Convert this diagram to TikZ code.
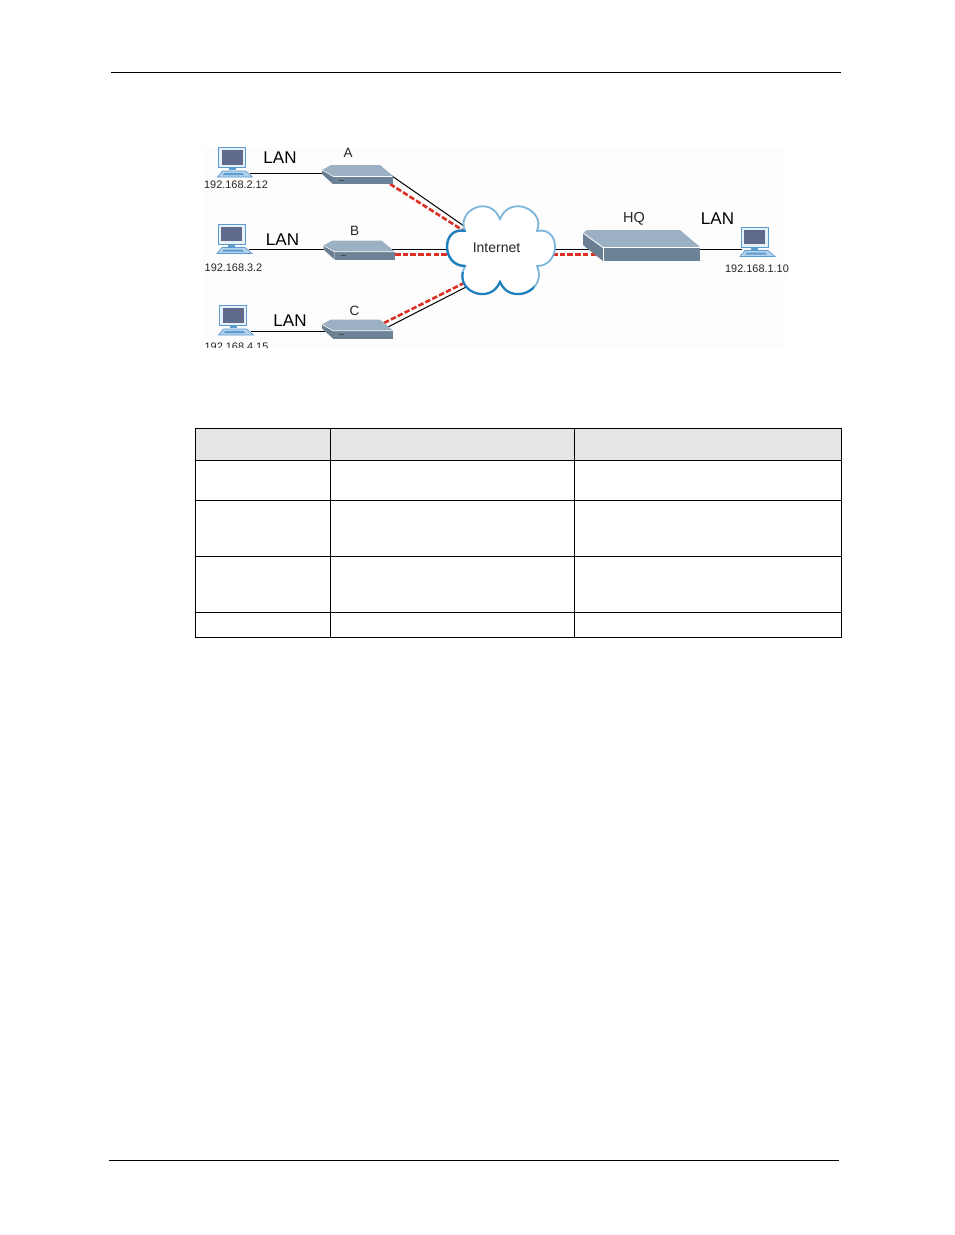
\documentclass[tikz,border=0pt]{standalone}
\usepackage{fontspec}
\setmainfont{Liberation Sans}
\definecolor{topface}{HTML}{9BB0C2}
\definecolor{frontface}{HTML}{6C8296}
\definecolor{sideface}{HTML}{6A7F92}
\definecolor{screenc}{HTML}{5F6A8C}
\definecolor{pcedge}{HTML}{5C9BD0}
\definecolor{pcbody}{HTML}{E6F1FA}
\definecolor{kbfill}{HTML}{B5D3EC}
\definecolor{cloudlight}{HTML}{7DB6DC}
\definecolor{clouddark}{HTML}{1F7FBE}
\definecolor{vpnred}{HTML}{DC3024}
\definecolor{headfill}{HTML}{E6E6E6}
\definecolor{labelc}{HTML}{262626}
\tikzset{
  x=1pt,y=-1pt,
  rule/.style={draw=black,line width=0.9pt},
  tbl/.style={draw=black,line width=1pt},
  wire/.style={draw=black,line width=1pt},
  vpn/.style={draw=vpnred,line width=2.6pt,dash pattern=on 5.5pt off 2.2pt},
  ip/.style={font=\fontsize{10.9}{13}\selectfont,text=labelc,inner sep=0pt},
  lan/.style={font=\fontsize{17}{19}\selectfont,text=black,inner sep=0pt},
  dev/.style={font=\fontsize{13.5}{15}\selectfont,text=labelc,inner sep=0pt},
  compu/.pic={
    \fill[pcbody,draw=pcedge,line width=0.8pt] (0,0) rectangle (27,20);
    \fill[screenc] (3,2.5) rectangle (24,17);
    \fill[pcedge] (10,20) rectangle (17,22.5);
    \fill[kbfill,draw=pcedge,line width=0.7pt] (4,23.5) -- (27,23.5) -- (34,29.5) -- (-1,29.5) -- cycle;
    \fill[pcedge] (6,25.5) -- (24,25.5) -- (26,27.5) -- (4,27.5) -- cycle;
  },
  smallrouter/.pic={
    \fill[topface] (0,0) -- (9,-5) -- (58,-5) -- (71,6) -- (11,6) -- cycle;
    \fill[frontface] (11,6.5) rectangle (71,14);
    \fill[sideface] (0,0) -- (11,6.5) -- (11,14) -- (0,4) -- cycle;
    \draw[white,line width=0.5pt] (0,0) -- (11,6.3) -- (71,6.3);
    \fill[black!70] (17,9.5) rectangle (22,10.5);
  },
  bigrouter/.pic={
    \fill[topface] (0,0) -- (4,-3) -- (97,-3) -- (117,14) -- (20,14) -- cycle;
    \fill[frontface] (20,15) rectangle (117,28);
    \fill[sideface] (0,0) -- (20,14) -- (20,28) -- (0,12) -- cycle;
    \draw[white,line width=0.9pt] (0,0) -- (20,14.5) -- (117,14.5);
    \draw[white,line width=0.9pt] (20,14.5) -- (20,28);
  }
}
\begin{document}
\begin{tikzpicture}
\useasboundingbox (0,0) rectangle (954,1235);
\fill[white] (0,0) rectangle (954,1235);
% page rules
\coordinate (tl) at (111,72); \coordinate (tr) at (841,72);
\coordinate (bl) at (109,1160); \coordinate (br) at (839,1160);
\draw[rule] (tl) -- (tr);
\draw[rule] (bl) -- (br);
% diagram background
\fill[black!0.6] (203,148) rectangle (786,348);
% wire end points
\coordinate (pcAo) at (250,173.5); \coordinate (rAi) at (324,173.5);
\coordinate (pcBo) at (249,249.5); \coordinate (rBi) at (326,249.5);
\coordinate (pcCo) at (251,331.5); \coordinate (rCi) at (325,331.5);
\coordinate (rAb) at (392,176); \coordinate (cAb) at (464,226);
\coordinate (rAr) at (390,184); \coordinate (cAr) at (464,231);
\coordinate (rBb) at (392,249.5); \coordinate (cBb) at (450,249.5);
\coordinate (rBr) at (395,254.5); \coordinate (cBr) at (450,254.5);
\coordinate (rCb) at (388,327); \coordinate (cCb) at (470,285);
\coordinate (rCr) at (384,323); \coordinate (cCr) at (468,281);
\coordinate (cHb) at (552,249.5); \coordinate (hb) at (590,249.5);
\coordinate (cHr) at (552,254.5); \coordinate (hr) at (600,254.5);
\coordinate (ho) at (698,249.5); \coordinate (pcHo) at (742,249.5);
% wires
\draw[wire] (pcAo) -- (rAi);
\draw[wire] (pcBo) -- (rBi);
\draw[wire] (pcCo) -- (rCi);
\draw[wire] (rAb) -- (cAb);
\draw[wire] (rBb) -- (cBb);
\draw[wire] (rCb) -- (cCb);
\draw[wire] (cHb) -- (hb);
\draw[wire] (ho) -- (pcHo);
\draw[vpn] (rAr) -- (cAr);
\draw[vpn] (rBr) -- (cBr);
\draw[vpn] (rCr) -- (cCr);
\draw[vpn] (cHr) -- (hr);
% routers
\pic at (322,170) {smallrouter};
\pic at (323.5,245.5) {smallrouter};
\pic at (322,324.5) {smallrouter};
\pic at (583,233) {bigrouter};
% computers
\pic at (218.5,147.5) {compu};
\pic at (218,224) {compu};
\pic at (219.5,305.5) {compu};
\pic at (741,227) {compu};
% cloud
\path[fill=white,draw=cloudlight,line width=1.8pt]
  (465,231) .. controls (456,210) and (490,194) .. (500,219)
  .. controls (510,194) and (546,210) .. (537,231)
  .. controls (561,226) and (561,266) .. (537,266)
  .. controls (548,291) and (510,306) .. (500,282)
  .. controls (490,306) and (452,291) .. (465,266)
  .. controls (441,266) and (441,226) .. (465,231) -- cycle;
\draw[clouddark,line width=2.4pt,line cap=round]
  (465,266) .. controls (441,266) and (441,226) .. (465,231);
\begin{scope}
\clip (455,272) rectangle (534,296);
\draw[clouddark,line width=2.2pt,line cap=round]
  (537,266) .. controls (548,291) and (510,306) .. (500,282)
  .. controls (490,306) and (452,291) .. (465,266);
\end{scope}
% labels
\node[font=\fontsize{14}{16}\selectfont,text=labelc,inner sep=0pt] (inet) at (496.5,248) {Internet};
\node[dev] (lA) at (348,152.5) {A};
\node[dev] (lB) at (354.5,231) {B};
\node[dev] (lC) at (354.5,310.5) {C};
\node[dev,font=\fontsize{14.5}{16}\selectfont] (lH) at (634,218.5) {HQ};
\node[lan] (lanA) at (280,158) {LAN};
\node[lan] (lanB) at (282.5,240) {LAN};
\node[lan] (lanC) at (290,321) {LAN};
\node[lan] (lanH) at (717.5,219) {LAN};
\node[ip] (ipA) at (236,185) {192.168.2.12};
\node[ip] (ipB) at (233.5,267.5) {192.168.3.2};
\node[ip] (ipH) at (757,268.5) {192.168.1.10};
\begin{scope}
\clip (200,335) rectangle (300,347.5);
\node[ip] (ipC) at (236.5,346.5) {192.168.4.15};
\end{scope}
% table
\fill[headfill] (195.5,428.5) rectangle (841.5,460);
\coordinate (t1) at (195.5,428.5); \coordinate (t2) at (841.5,637.5);
\draw[tbl] (t1) rectangle (t2);
\foreach \yy in {460,500.5,556.5,612.5} \draw[tbl] (195.5,\yy) -- (841.5,\yy);
\foreach \xx in {330.5,574.5} \draw[tbl] (\xx,428.5) -- (\xx,637.5);
\end{tikzpicture}
\end{document}
